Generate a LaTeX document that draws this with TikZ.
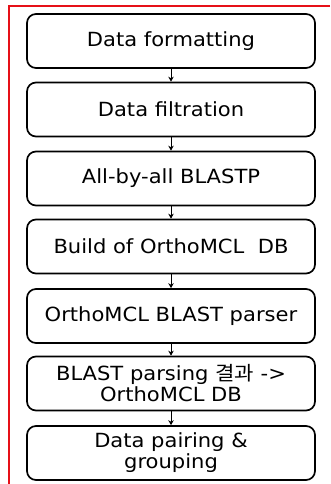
\documentclass[tikz,border=0pt]{standalone}
\usepackage{fontspec}
\setmainfont[FakeStretch=1.08]{DejaVu Sans}
\newfontfamily\krfont[FakeStretch=1.08]{Noto Sans CJK KR}
\usetikzlibrary{arrows.meta}
\definecolor{framered}{RGB}{230,16,24}
\begin{document}
\begin{tikzpicture}[x=1pt,y=1pt,
  stepbox/.style={draw=black, line width=1.7pt, rounded corners=9pt,
    minimum width=288pt, minimum height=54pt, align=center,
    font=\fontsize{19.5}{21}\selectfont, inner sep=2pt},
  flow/.style={-{Stealth[length=5pt,width=5.5pt]}, line width=1pt}]
\useasboundingbox (0,0) rectangle (330,-484);
\fill[white] (0,0) rectangle (330,-484);
% red frame: top and left edges
\draw[framered, line width=2.2pt] (330,-6) -- (9,-6) -- (9,-484);
\node[stepbox] (s1) at (171,-41)  {Data formatting};
\node[stepbox] (s2) at (171,-109.5) {Data filtration};
\node[stepbox] (s3) at (171,-178.5) {All-by-all BLASTP};
\node[stepbox] (s4) at (171,-246.5) {Build of OrthoMCL\ \ DB};
\node[stepbox] (s5) at (171,-316) {OrthoMCL BLAST parser};
\node[stepbox] (s6) at (171,-383.5) {BLAST parsing {\krfont 결과} ->\\OrthoMCL DB};
\node[stepbox] (s7) at (171,-453) {Data pairing \&\\grouping};
\foreach \a/\b in {s1/s2,s2/s3,s3/s4,s4/s5,s5/s6,s6/s7}
  \draw[flow] (\a) -- (\b);
\end{tikzpicture}
\end{document}
